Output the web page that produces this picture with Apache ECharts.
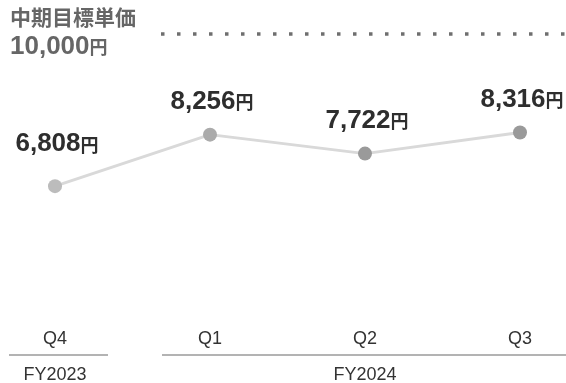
<!DOCTYPE html>
<html>
<head>
<meta charset="utf-8">
<script src="https://cdn.jsdelivr.net/npm/echarts@6/dist/echarts.min.js"></script>
<style>
  html, body { margin: 0; padding: 0; background: #fff; }
  #chart { width: 566px; height: 383px; }
</style>
</head>
<body>
<div id="chart"></div>
<script>
// Unit price per quarter (円)
const quarters = ['Q4', 'Q1', 'Q2', 'Q3'];
const unitPrice = [6808, 8256, 7722, 8316];
const fiscalYears = [
  { name: 'FY2023', from: 0, to: 0 },
  { name: 'FY2024', from: 1, to: 3 }
];
const targetTitle = '中期目標単価';
const targetValue = 10000;

const FONT = "'Liberation Sans', Arial, 'Noto Sans CJK JP', sans-serif";
const pointColors = ['#bcbcbc', '#ababab', '#9a9a9a', '#9a9a9a'];
const fmt = v => v.toLocaleString('en-US');

const chart = echarts.init(document.getElementById('chart'), null, { renderer: 'canvas' });

const data = unitPrice.map((v, i) => ({
  value: v,
  itemStyle: { color: pointColors[i] },
  label: { distance: i === 0 ? 22 : 13 }
}));

chart.setOption({
  animation: false,
  grid: { left: 55, right: 46, top: 72.6, bottom: 97, containLabel: false },
  xAxis: {
    type: 'category',
    data: quarters,
    boundaryGap: false,
    axisLine: { show: false },
    axisTick: { show: false },
    axisLabel: { margin: 44, fontSize: 18, color: '#333', fontFamily: FONT }
  },
  yAxis: {
    type: 'value',
    min: 4000,
    max: 10000,
    show: false
  },
  series: [{
    type: 'line',
    data: data,
    symbol: 'circle',
    symbolSize: 14,
    lineStyle: { color: '#d9d9d9', width: 3 },
    label: {
      show: true,
      position: 'top',
      offset: [2, 0],
      formatter: p => '{n|' + fmt(p.value) + '}{u|円}',
      rich: {
        n: { fontSize: 26, fontWeight: 'bold', color: '#2e2e2e', fontFamily: FONT },
        u: { fontSize: 18, fontWeight: 'bold', color: '#2e2e2e', fontFamily: FONT, padding: [5, 0, 0, 0] }
      }
    }
  }]
});

// Fiscal-year brackets under the quarter labels, placed from the category scale
const xs = quarters.map((q, i) => chart.convertToPixel({ xAxisIndex: 0 }, i));
const W = chart.getWidth();
const graphics = [];
fiscalYears.forEach((fy, k) => {
  const x1 = k === 0 ? xs[fy.from] - 46 : xs[fy.from] - 48;
  const x2 = k === 0 ? xs[fy.to] + 53 : W;
  const cx = (xs[fy.from] + xs[fy.to]) / 2;
  graphics.push({
    type: 'line',
    shape: { x1: x1, y1: 355, x2: x2, y2: 355 },
    style: { stroke: '#b3b3b3', lineWidth: 2 }
  });
  graphics.push({
    type: 'text',
    x: cx, y: 375,
    style: {
      text: fy.name, fill: '#333', font: '18px ' + FONT,
      textAlign: 'center', textVerticalAlign: 'middle'
    }
  });
});

// Mid-term target caption and dotted guide
graphics.push({
  type: 'text', x: 10, y: 19,
  style: {
    text: targetTitle, fill: '#666', font: 'bold 21px ' + FONT,
    textAlign: 'left', textVerticalAlign: 'middle'
  }
});
graphics.push({
  type: 'text', x: 10, y: 47,
  style: {
    text: '{n|' + fmt(targetValue) + '}{u|円}',
    textAlign: 'left', textVerticalAlign: 'middle',
    rich: {
      n: { fontSize: 26, fontWeight: 'bold', fill: '#666', fontFamily: FONT },
      u: { fontSize: 18, fontWeight: 'bold', fill: '#666', fontFamily: FONT, padding: [5, 0, 0, 0] }
    }
  }
});
graphics.push({
  type: 'line',
  shape: { x1: 161, y1: 34, x2: W, y2: 34 },
  style: { stroke: '#6f6f6f', lineWidth: 3.5, lineDash: [3.5, 12.5], lineCap: 'butt' }
});

chart.setOption({ graphic: graphics });
</script>
</body>
</html>
